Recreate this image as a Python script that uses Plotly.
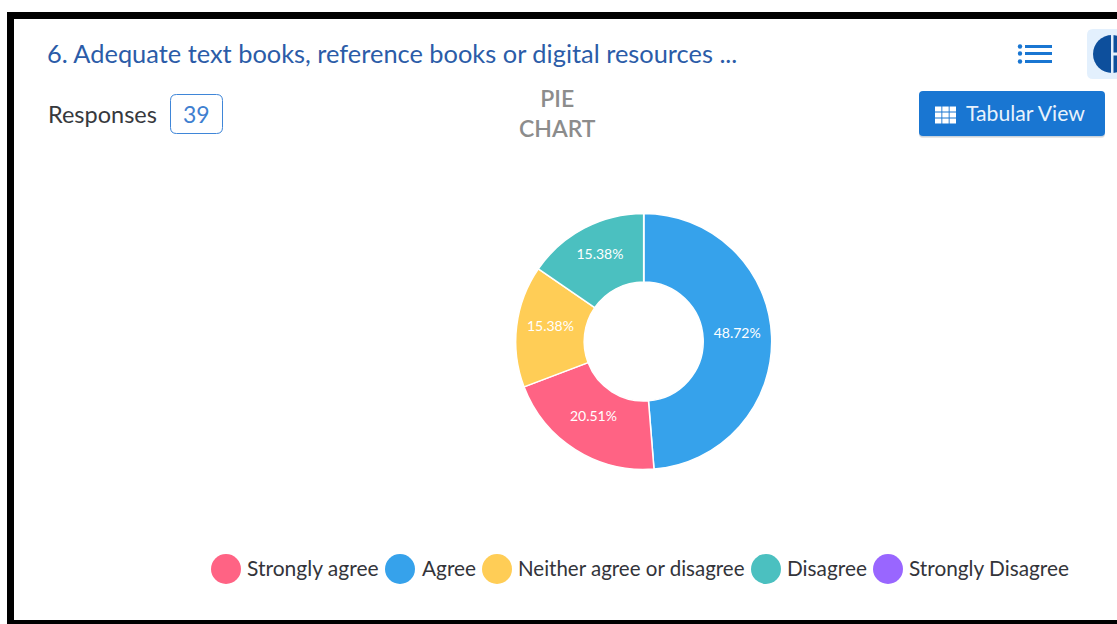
import plotly.graph_objects as go

W, H = 1117, 624

# Data (slice order as drawn, clockwise from the top)
slice_labels = ["Agree", "Strongly agree", "Neither agree or disagree", "Disagree", "Strongly Disagree"]
slice_counts = [19, 8, 6, 6, 0]
slice_colors = ["#36a2eb", "#ff6384", "#ffcd56", "#4bc0c0", "#9966ff"]

# Legend order as shown
legend_labels = ["Strongly agree", "Agree", "Neither agree or disagree", "Disagree", "Strongly Disagree"]
legend_colors = ["#ff6384", "#36a2eb", "#ffcd56", "#4bc0c0", "#9966ff"]
legend_dot_x = [226, 400, 497, 766, 888]
legend_text_x = [245, 420, 516, 785, 907]
legend_text_size = [21, 20.8, 20.5, 20.8, 20.8]

title_text = "6. Adequate text books, reference books or digital resources ..."
responses_label = "Responses"
responses_value = "39"
chart_kind = "PIE<br>CHART"
button_text = "Tabular View"

FONT = "Lato, 'Noto Sans', sans-serif"


def px(x):
    return x / W


def py(y):
    return 1 - y / H


def rect(x0, y0, x1, y1, fill, line=None, lw=0):
    return dict(type="rect", xref="paper", yref="paper", x0=px(x0), x1=px(x1), y0=py(y0), y1=py(y1),
                fillcolor=fill, line=dict(color=line or fill, width=lw), layer="below")


def circle(cx, cy, r, fill):
    return dict(type="circle", xref="paper", yref="paper", x0=px(cx - r), x1=px(cx + r),
                y0=py(cy + r), y1=py(cy - r), fillcolor=fill, line=dict(width=0), layer="below")


def rrect(x0, y0, x1, y1, r, fill, line=None, lw=0):
    a, b, c, d = px(x0), px(x1), py(y0), py(y1)
    rx, ry = r / W, r / H
    path = (f"M {a+rx},{c} L {b-rx},{c} Q {b},{c} {b},{c-ry} L {b},{d+ry} Q {b},{d} {b-rx},{d} "
            f"L {a+rx},{d} Q {a},{d} {a},{d+ry} L {a},{c-ry} Q {a},{c} {a+rx},{c} Z")
    return dict(type="path", xref="paper", yref="paper", path=path, fillcolor=fill,
                line=dict(color=line or fill, width=lw), layer="below")


def text(x, y, s, size, color, anchor="left", weight=None):
    return dict(xref="paper", yref="paper", x=px(x), y=py(y), text=s, showarrow=False,
                xanchor=anchor, yanchor="middle", align="center" if anchor == "center" else "left",
                font=dict(family=FONT, size=size, color=color, weight=weight))


fig = go.Figure()
# Visible ring
fig.add_trace(go.Pie(
    labels=slice_labels,
    values=slice_counts,
    sort=False,
    direction="clockwise",
    rotation=0,
    hole=0.465,
    marker=dict(colors=slice_colors, line=dict(color="#ffffff", width=1.5)),
    textinfo="none",
    showlegend=False,
    domain=dict(x=[px(643.7 - 128), px(643.7 + 128)], y=[py(469.5), py(213.5)]),
))
# Transparent ring that carries the percentage labels, sitting slightly higher
fig.add_trace(go.Pie(
    labels=slice_labels,
    values=slice_counts,
    sort=False,
    direction="clockwise",
    rotation=0,
    hole=0.465,
    marker=dict(colors=["rgba(0,0,0,0)"] * len(slice_labels), line=dict(width=0)),
    texttemplate="%{percent:.2%}",
    textposition="inside",
    insidetextorientation="horizontal",
    insidetextfont=dict(family=FONT, size=14, color="#ffffff"),
    showlegend=False,
    hoverinfo="skip",
    domain=dict(x=[px(644 - 128.5), px(644 + 127.5)], y=[py(464.5), py(208.5)]),
))

shapes = [
    # frame
    rect(7, 12, W, 19, "#000000"),
    rect(7, 12, 14, H, "#000000"),
    rect(7, 620, W, H, "#000000"),
    # responses badge
    rrect(170.5, 94.5, 222.5, 133.5, 6, "#ffffff", "#3f86d8", 1),
    # list icon
    circle(1020, 46.5, 2.2, "#1976d2"), rect(1025, 45, 1052, 48, "#1976d2"),
    circle(1020, 53.5, 2.2, "#1976d2"), rect(1025, 52, 1052, 55, "#1976d2"),
    circle(1020, 61.5, 2.2, "#1976d2"), rect(1025, 60, 1052, 63, "#1976d2"),
    # pie toggle icon
    rrect(1087, 29, 1130, 79, 6, "#e3f0fd"),
    circle(1112, 54, 19, "#0d4f9c"),
    rect(1111, 33, 1113.5, 75, "#e3f0fd"),
    rect(1113, 52.5, W, 55.5, "#e3f0fd"),
    # button shadow + button
    rrect(919, 94, 1105, 138, 4, "#e6e6e6"),
    rrect(919, 93, 1105, 137, 4, "#c9d3dd"),
    rrect(919, 91, 1105, 136, 4, "#1976d2"),
]
# button grid icon
for gx in (935, 942.3, 949.6):
    for gy in (106.5, 112.5, 118.5):
        shapes.append(rect(gx, gy, gx + 6.4, gy + 5, "#ffffff"))
# legend dots
for dot_x, col in zip(legend_dot_x, legend_colors):
    shapes.append(circle(dot_x, 569, 15, col))

annotations = [
    text(45, 52.5, title_text, 25.4, "#2b5ca8"),
    text(45.5, 113.5, responses_label, 23.5, "#37393d"),
    text(196, 113.5, responses_value, 23, "#3f7fd0", "center"),
    text(557, 112.5, chart_kind, 23, "#8c8c8c", "center", 600),
    text(963.5, 113, button_text, 21.2, "#e8f2fc"),
]
for tx, lab, sz in zip(legend_text_x, legend_labels, legend_text_size):
    annotations.append(text(tx, 567.5, lab, sz, "#33343a"))

fig.update_layout(
    width=W, height=H, autosize=False,
    margin=dict(l=0, r=0, t=0, b=0),
    paper_bgcolor="#ffffff",
    plot_bgcolor="#ffffff",
    shapes=shapes,
    annotations=annotations,
)

fig.write_html(
    "out.html",
    config=dict(displayModeBar=False),
    post_script="document.body.style.margin='0';document.body.style.overflow='hidden';",
)
